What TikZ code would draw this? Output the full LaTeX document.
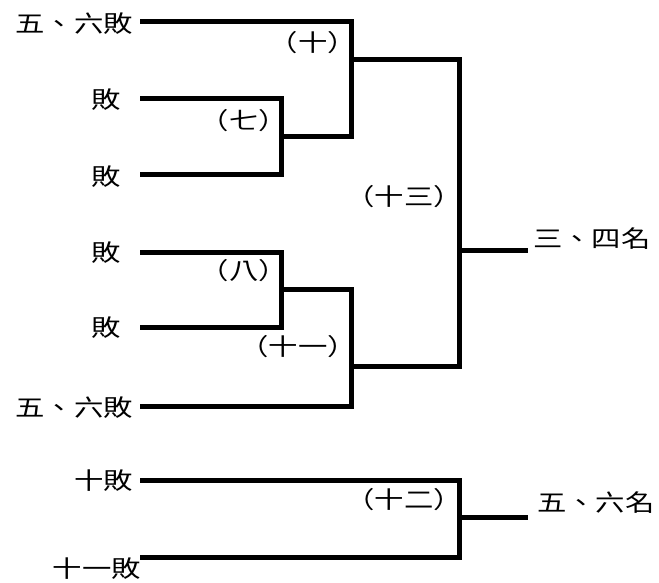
\documentclass[tikz,border=0pt]{standalone}
\usepackage{fontspec}
\setmainfont{Noto Sans CJK TC}[FakeStretch=1.25]
\usepackage{tikz}
\usetikzlibrary{positioning,calc}

\begin{document}
\begin{tikzpicture}[x=1pt,y=-1pt,font=\fontsize{23.5}{27}\selectfont,
  wire/.style={line width=5pt,line join=miter},
  team/.style={anchor=east,inner sep=0pt},
  game/.style={inner sep=0pt},
  rank/.style={anchor=west,inner sep=0pt}]
\useasboundingbox (0,0) rectangle (659,583);
\def\xs{140}
% entries on the left
\node[team] (t1) at (133,24) {五、六敗};
\foreach \i/\y in {2/100,3/177,4/253,5/328}{
  \node[team] (t\i) at (121,\y) {敗};}
\node[team] (t6) at (133,408) {五、六敗};
\node[team] (t7) at (133,481) {十敗};
\node[team] (t8) at (141,569) {十一敗};
% start of each line
\foreach \i/\y in {1/22,2/99,3/175,4/252,5/327,6/406,7/480,8/557}{
  \coordinate (s\i) at (\xs,\y);}
% games
\coordinate (g7) at (281,137);
\coordinate (g8) at (281,289);
\coordinate (g10) at (351,60);
\coordinate (g11) at (351,366);
\coordinate (g13) at (459,250);
\coordinate (g12) at (459,517);
\coordinate (w13) at (528,250);
\coordinate (w12) at (528,517);
\node[game] (n7) at (244,121) {（七）};
\node[game] (n8) at (244,271) {（八）};
\node[game] (n10) at (313,43) {（十）};
\node[game] (n11) at (298,347) {（十一）};
\node[game] (n13) at (404,197) {（十三）};
\node[game] (n12) at (404,500) {（十二）};
% results
\node[rank] (r1) at (533,239) {三、四名};
\node[rank] (r2) at (537,503) {五、六名};
% bracket
\draw[wire] (s2) -| (g7) |- (s3);
\draw[wire] (s4) -| (g8) |- (s5);
\draw[wire] (s1) -| (g10) |- (g7);
\draw[wire] (s6) -| (g11) |- (g8);
\draw[wire] (g10) -| (g13) |- (g11);
\draw[wire] (g13) -- (w13);
\draw[wire] (s7) -| (g12) |- (s8);
\draw[wire] (g12) -- (w12);
\end{tikzpicture}
\end{document}
